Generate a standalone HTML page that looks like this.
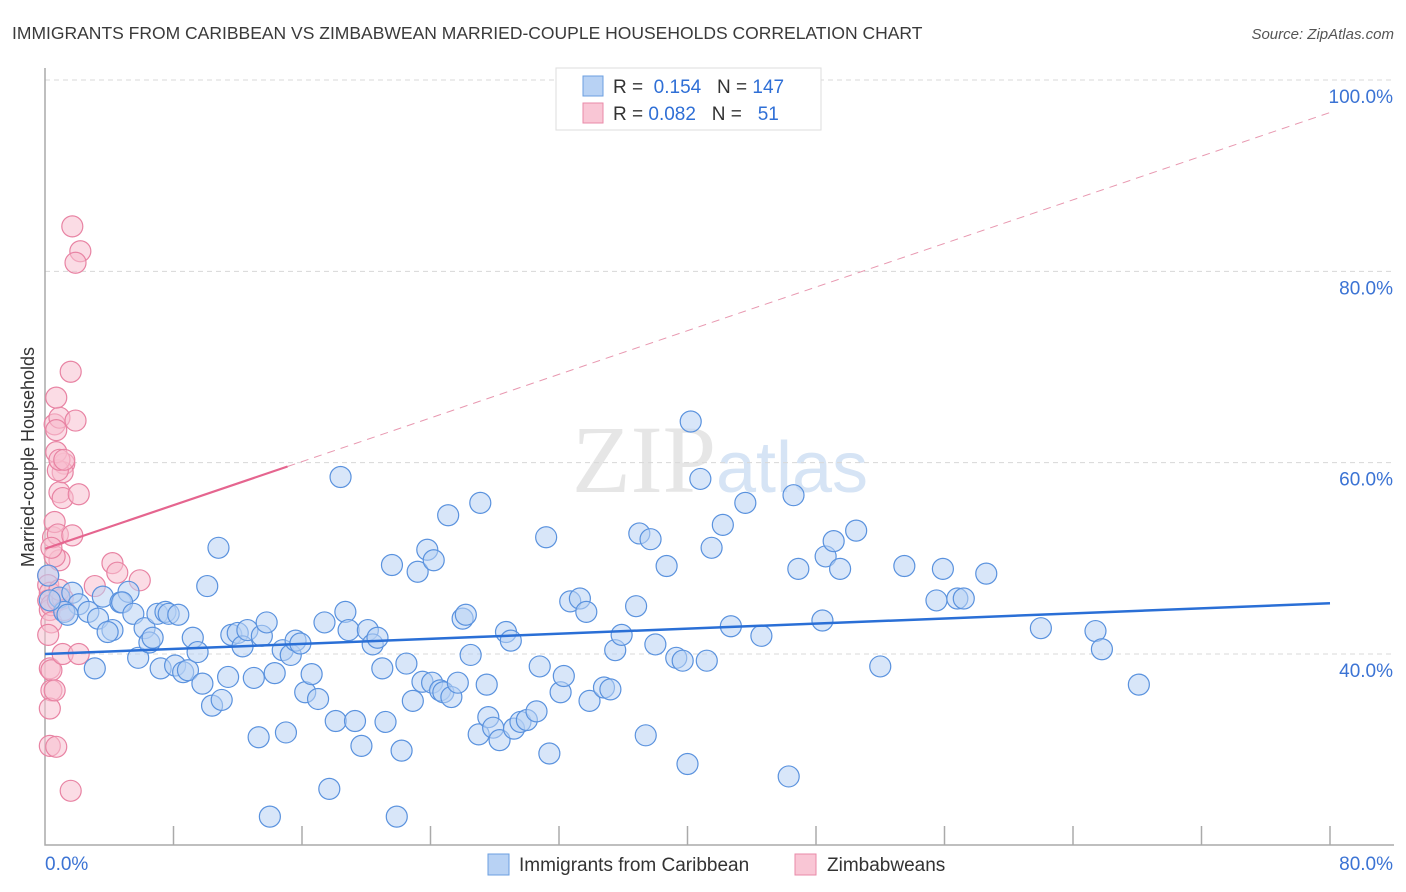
<!DOCTYPE html>
<html><head><meta charset="utf-8"><style>
body{margin:0;background:#fff;font-family:"Liberation Sans",sans-serif}
svg{display:block}
</style></head><body>
<svg id="chart" width="1406" height="892" viewBox="0 0 1406 892">
<text x="12" y="39" font-size="17.5" fill="#3a3a3a">IMMIGRANTS FROM CARIBBEAN VS ZIMBABWEAN MARRIED-COUPLE HOUSEHOLDS CORRELATION CHART</text>
<text x="1394" y="39" font-size="15" fill="#555" text-anchor="end" font-style="italic">Source: ZipAtlas.com</text>
<text x="720" y="492" font-size="96" fill="#e6e6e6" text-anchor="middle" font-family="Liberation Serif,serif">ZIP<tspan fill="#d6e4f5" font-family="Liberation Sans,sans-serif" font-size="72">atlas</tspan></text>
<text transform="translate(34,457) rotate(-90)" font-size="18" fill="#333" text-anchor="middle">Married-couple Households</text>
<g id="grid"></g><g id="axes"></g><g id="pink"></g><g id="blue"></g><g id="lines"></g>
<g>
<rect x="556" y="68" width="265" height="62" fill="#fff" stroke="#ddd"/>
<rect x="583" y="76" width="20" height="20" fill="#b8d2f4" stroke="#6b9fe0"/>
<rect x="583" y="103" width="20" height="20" fill="#f9c6d5" stroke="#e98aa8"/>
<text x="613" y="93" font-size="19" fill="#333">R = <tspan fill="#2f6fd6">&#160;0.154</tspan>&#160;&#160;&#160;N = <tspan fill="#2f6fd6">147</tspan></text>
<text x="613" y="120" font-size="19" fill="#333">R = <tspan fill="#2f6fd6">0.082</tspan>&#160;&#160;&#160;N = <tspan fill="#2f6fd6">&#160;&#160;51</tspan></text>
</g>
<g>
<rect x="488" y="854" width="21" height="21" fill="#b8d2f4" stroke="#6b9fe0"/>
<text x="519" y="871" font-size="19" fill="#333">Immigrants from Caribbean</text>
<rect x="795" y="854" width="21" height="21" fill="#f9c6d5" stroke="#e98aa8"/>
<text x="827" y="871" font-size="19" fill="#333">Zimbabweans</text>
</g>
</svg>
<script>
const yTicks=[40,60,80,100];
const yTickLabels=["40.0%","60.0%","80.0%","100.0%"];
const xTicks=[0,8,16,24,32,40,48,56,64,72,80];
const blueX=[0.2,0.9,1.7,2.1,1.2,1.4,2.7,3.3,3.1,3.6,4.2,3.9,4.7,5.2,4.8,5.5,5.8,6.2,6.5,6.7,7.0,7.5,7.7,8.3,7.2,8.1,8.6,8.9,9.2,9.5,9.8,10.1,10.4,10.8,11.0,11.4,11.6,12.0,12.3,12.6,13.0,13.3,13.5,13.8,14.3,14.8,15.0,15.3,15.6,15.9,16.2,16.6,17.0,17.4,17.7,18.1,18.4,18.7,18.9,19.3,19.7,20.1,20.4,20.7,21.0,21.2,21.6,21.9,22.2,22.5,22.9,23.2,23.5,23.8,24.1,24.2,24.6,24.8,25.1,25.3,25.7,26.0,26.2,26.5,27.0,27.1,27.5,27.6,27.9,28.3,28.7,29.0,29.2,29.6,30.0,30.6,30.8,31.2,31.4,32.1,32.3,32.7,33.3,33.7,33.9,34.8,35.2,35.5,35.9,36.8,37.0,37.4,37.7,38.0,38.7,39.3,39.7,40.0,40.2,40.8,41.2,41.5,42.2,42.7,43.6,44.6,46.3,46.6,46.9,48.4,48.6,49.1,49.5,50.5,52.0,53.5,55.5,55.9,56.8,57.2,58.6,62.0,65.4,65.8,68.1,14.0,0.3];
const blueY=[48.2,45.9,46.4,45.2,44.4,44.1,44.4,43.7,38.5,46.0,42.5,42.3,45.4,46.5,45.4,44.2,39.6,42.7,41.2,41.7,44.2,44.4,44.2,44.1,38.5,38.8,38.1,38.3,41.7,40.2,36.9,47.1,34.6,51.1,35.2,37.6,42.0,42.2,40.8,42.5,37.5,31.3,41.9,43.3,38.0,40.4,31.8,39.9,41.4,41.1,36.0,37.9,35.3,43.3,25.9,33.0,58.5,44.4,42.5,33.0,30.4,42.5,41.0,41.7,38.5,32.9,49.3,23.0,29.9,39.0,35.1,48.6,37.1,50.9,37.0,49.8,36.2,36.0,54.5,35.5,37.0,43.7,44.1,39.9,31.6,55.8,36.8,33.4,32.3,31.0,42.3,41.4,32.2,32.9,33.1,34.0,38.7,52.2,29.6,36.0,37.7,45.5,45.8,44.4,35.1,36.5,36.3,40.4,42.0,45.0,52.6,31.5,52.0,41.0,49.2,39.6,39.3,28.5,64.3,58.3,39.3,51.1,53.5,42.9,55.8,41.9,27.2,56.6,48.9,43.5,50.2,51.8,48.9,52.9,38.7,49.2,45.6,48.9,45.8,45.8,48.4,42.7,42.4,40.5,36.8,23.0,45.6];
const pinkX=[0.2,0.2,0.3,0.2,0.3,0.4,0.4,0.2,0.3,0.4,0.4,0.3,0.3,0.7,0.6,0.8,0.9,1.1,0.6,0.5,0.6,0.8,0.9,1.1,1.2,1.1,0.8,0.7,0.9,0.6,0.9,0.7,1.6,1.9,1.7,2.1,1.7,2.2,1.9,3.1,4.2,4.5,5.9,1.1,2.1,1.2,1.6,0.4,0.9,1.2,0.7];
const pinkY=[48.2,47.2,46.4,45.6,44.6,45.1,43.3,42.0,38.5,38.3,36.2,34.3,30.4,30.3,36.2,45.6,49.8,45.8,50.2,52.2,53.8,52.5,56.9,56.3,59.9,59.0,59.2,61.1,60.3,64.0,64.7,66.8,69.5,64.4,52.4,56.7,84.7,82.1,80.9,47.1,49.5,48.5,47.7,40.0,40.0,44.6,25.7,51.1,46.7,60.3,63.4];
const blueTrend=[[0,40.0],[80,45.3]];
const pinkTrend=[[0,51.0],[15.1,59.6],[80,96.6]];
const NS="http://www.w3.org/2000/svg";
const X=v=>45+v*(1285/80);
const Y=v=>654-(v-40)*(574/60);
function mk(t,a,p){const e=document.createElementNS(NS,t);for(const k in a)e.setAttribute(k,a[k]);p.appendChild(e);return e;}
const grid=document.getElementById('grid'),axes=document.getElementById('axes');
yTicks.forEach((t,i)=>{
 const l=mk('line',{x1:45,x2:1394,y1:Y(t),y2:Y(t),stroke:'#d8d8d8','stroke-dasharray':'5,4'},grid);
 
 
 const tx=mk('text',{x:1393,y:Y(t)+23,'font-size':19,fill:'#3b73d4','text-anchor':'end'},grid);
 tx.textContent=yTickLabels[i];
 
 
});
const ax=mk('path',{d:`M45,68V845H1394`,stroke:'#aaa',fill:'none','stroke-width':1.5},axes);


xTicks.forEach((t,i)=>{if(i===0)return;
 const l=mk('line',{x1:X(t),x2:X(t),y1:826,y2:845,stroke:'#aaa','stroke-width':1.5},axes);
 
 
});
const xl0=mk('text',{x:45,y:870,'font-size':19,fill:'#3b73d4'},axes);xl0.textContent='0.0%';


const xl1=mk('text',{x:1393,y:870,'font-size':19,fill:'#3b73d4','text-anchor':'end'},axes);xl1.textContent='80.0%';


function dots(xs,ys,g,fill,stroke,name){xs.forEach((x,i)=>{
 const c=mk('circle',{cx:X(x),cy:Y(ys[i]),r:10.5,fill:fill,'fill-opacity':0.55,stroke:stroke,'stroke-width':1.2},g);
 
 
});}
dots(pinkX,pinkY,document.getElementById('pink'),'#f7c0d0','#e883a3','zimbabwean-point');
dots(blueX,blueY,document.getElementById('blue'),'#b8d2f4','#5a92de','caribbean-point');
const lines=document.getElementById('lines');
const bl=mk('line',{x1:X(blueTrend[0][0]),y1:Y(blueTrend[0][1]),x2:X(blueTrend[1][0]),y2:Y(blueTrend[1][1]),stroke:'#2a6fd6','stroke-width':2.5},lines);


const pl=mk('line',{x1:X(pinkTrend[0][0]),y1:Y(pinkTrend[0][1]),x2:X(pinkTrend[1][0]),y2:Y(pinkTrend[1][1]),stroke:'#e5658f','stroke-width':2.2},lines);


const pd=mk('line',{x1:X(pinkTrend[1][0]),y1:Y(pinkTrend[1][1]),x2:X(pinkTrend[2][0]),y2:Y(pinkTrend[2][1]),stroke:'#e898b0','stroke-width':1,'stroke-dasharray':'8,6'},lines);


</script>
</body></html>
